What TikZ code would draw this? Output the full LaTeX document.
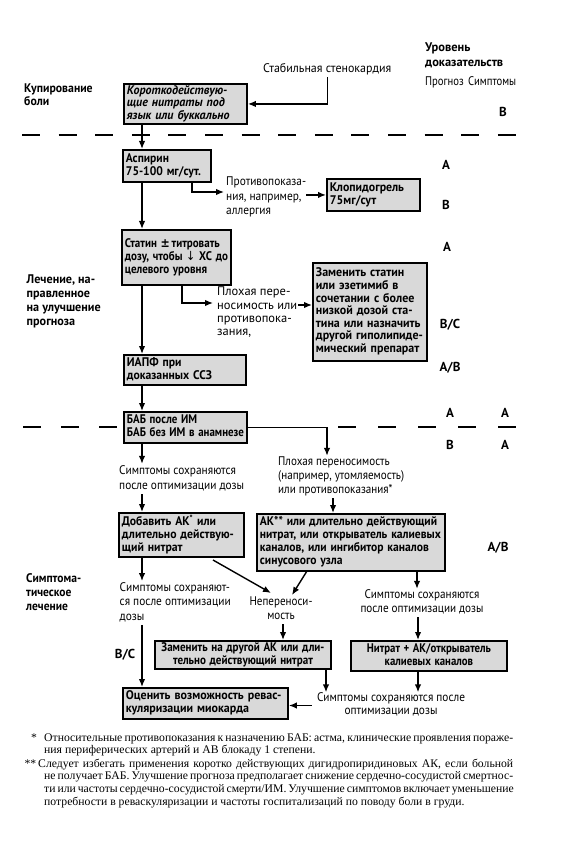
\documentclass[tikz,border=0pt]{standalone}
\usepackage{graphicx}
\usepackage{fontspec}
\setmainfont{PT Sans}
\newfontfamily\fnfont{Liberation Serif}
\newfontfamily\symf{DejaVu Sans}
\usetikzlibrary{arrows.meta}
\definecolor{boxgray}{gray}{0.85}
\newcommand\fsbox{\fontsize{12.5}{13}\selectfont}
\newcommand\fslab{\fontsize{12.5}{14}\selectfont}
% fit a block of lines to a given width (horizontal scaling only)
\newcommand\fitl[2]{\resizebox{#1pt}{\height}{\begin{tabular}{@{}l@{}}#2\end{tabular}}}
\newcommand\fitc[2]{\resizebox{#1pt}{\height}{\begin{tabular}{@{}c@{}}#2\end{tabular}}}
\begin{document}
\begin{tikzpicture}[x=1pt,y=-1pt,
  box/.style={draw, line width=1.9pt, fill=boxgray, inner xsep=3pt, inner ysep=0pt, anchor=north west, align=left, font=\bfseries\fsbox},
  cbox/.style={box, align=center},
  lbl/.style={inner sep=0pt, font=\fslab, anchor=west},
  clbl/.style={inner sep=0pt, font=\fslab},
  hd/.style={inner sep=0pt, font=\bfseries\fslab, anchor=west},
  ev/.style={inner sep=0pt, font=\bfseries\fontsize{13}{14}\selectfont},
  fn/.style={inner sep=0pt, anchor=base west, font=\fnfont\fontsize{11.7}{12}\selectfont},
  arr/.style={-{Latex[length=8pt,width=6.5pt]}, line width=1.4pt},
  dashline/.style={line width=2.6pt},
]
\fill[white] (0,0) rectangle (576,850);
\useasboundingbox (0,0) rectangle (576,850);

% bend coordinates
\coordinate (sp) at (142,0);
\coordinate (b1) at (192,0);
\coordinate (c1) at (224,192);
\coordinate (b2) at (182,0);
\coordinate (c2) at (213,303);
\coordinate (c3) at (298,305);
\coordinate (b3) at (327,0);
\coordinate (b4) at (333,0);
\coordinate (b5) at (417,0);
\coordinate (b6) at (283,0);
\coordinate (b7) at (418,0);
\coordinate (b8) at (326,0);
\coordinate (d1s) at (213,560);
\coordinate (d1e) at (271,593);
\coordinate (d2s) at (307,571);
\coordinate (d2e) at (292,595);

% dashed separators
\draw[dashline, dash pattern=on 18pt off 18.6pt] (22,135) -- (522,135);
\draw[dashline, dash pattern=on 18pt off 20pt] (23,427) -- (122,427);
\draw[dashline, dash pattern=on 18pt off 22pt] (338,427) -- (520,427);

% headings
\node[hd, font=\bfseries\fontsize{12.5}{15}\selectfont] (ur) at (425,56) {\fitl{78}{Уровень\\доказательств}};
\node[lbl] (pr) at (425,83) {\fitl{91}{Прогноз\hspace{5pt}Симптомы}};
\node[lbl] (stab) at (263,70) {\fitl{128}{Стабильная стенокардия}};
\node[hd, font=\bfseries\fontsize{12.5}{13}\selectfont] (kup) at (24,96.5) {\fitl{68.5}{Купирование\\боли}};
\node[hd] (lech) at (26.5,301.5) {\fitl{74}{Лечение, на-\\правленное\\на улучшение\\прогноза}};
\node[hd] (simpt) at (26,594) {\fitl{55}{Симптома-\\тическое\\лечение}};

% boxes
\node[box, font=\bfseries\itshape\fontsize{12.5}{12}\selectfont, text width=117pt, minimum height=40pt] (k1) at (123,83) {\fitl{102.5}{Короткодействую-\\щие нитраты под\\язык или буккально}};
\node[box, text width=82pt, minimum height=32pt] (asp) at (122,149) {\fitl{75}{Аспирин\\75-100 мг/сут.}};
\node[box, text width=87pt, minimum height=32pt] (clop) at (326,178) {\fitl{74}{Клопидогрель\\75мг/сут}};
\node[box, text width=103pt, minimum height=55pt] (stat) at (121,229) {\fitl{103}{Статин {\symf ±}\,титровать\\дозу, чтобы {\symf\mdseries ↓} ХС до\\целевого уровня}};
\node[box, font=\bfseries\fontsize{12.5}{12.4}\selectfont, text width=108pt, minimum height=98pt] (zam) at (312,262) {\fitl{107}{Заменить статин\\или эзетимиб в\\сочетании с более\\низкой дозой ста-\\тина или назначить\\другой гиполипиде-\\мический препарат}};
\node[box, text width=116pt, minimum height=30pt] (iapf) at (123,354) {\fitl{85}{ИАПФ при\\доказанных ССЗ}};
\node[box, text width=117pt, minimum height=31pt] (bab) at (123,411) {\fitl{117}{БАБ после ИМ\\БАБ без ИМ в анамнезе}};
\node[box, text width=119pt, minimum height=44pt] (dob) at (118,512) {\fitl{112}{Добавить АК\textsuperscript{*} или\\длительно действую-\\щий нитрат}};
\node[box, text width=182pt, minimum height=57pt] (ak) at (256,513) {\fitl{181}{АК** или длительно действующий\\нитрат, или открыватель калиевых\\каналов, или ингибитор каналов\\синусового узла}};
\node[cbox, text width=170pt, minimum height=28pt] (zam2) at (154,640) {\fitc{163}{Заменить на другой АК или дли-\\тельно действующий нитрат}};
\node[cbox, text width=150pt, minimum height=30pt] (nitr) at (350,640) {\fitc{124}{Нитрат + АК/открыватель\\калиевых каналов}};
\node[box, text width=159pt, minimum height=31pt] (ocen) at (122,687) {\fitl{155.5}{Оценить возможность ревас-\\куляризации миокарда}};

% labels
\node[lbl, font=\fontsize{12.5}{14.5}\selectfont] (ci1) at (226,197.5) {\fitl{80}{Противопоказа-\\ния, например,\\аллергия}};
\node[lbl, font=\fontsize{12.5}{13.3}\selectfont] (ci2) at (217,313) {\fitl{80}{Плохая пере-\\носимость или\\противопока-\\зания,}};
\node[lbl, font=\fontsize{12.5}{15}\selectfont] (sym1) at (119,479) {\fitl{125}{Симптомы сохраняются\\после оптимизации дозы}};
\node[lbl] (pl) at (278,477) {\fitl{126}{Плохая переносимость\\(например, утомляемость)\\или противопоказания*}};
\node[lbl, font=\fontsize{12.5}{14.5}\selectfont] (sym2) at (119.5,603) {\fitl{111}{Симптомы сохраняют-\\ся после оптимизации\\дозы}};
\node[clbl] (nepe) at (281,610) {\fitc{63}{Непереноси-\\мость}};
\node[clbl] (sym3) at (422,603) {\fitc{123}{Симптомы сохраняются\\после оптимизации дозы}};
\node[clbl, font=\fontsize{12.5}{13}\selectfont] (sym4) at (391,705.5) {\fitc{148}{Симптомы сохраняются после\\оптимизации дозы}};

% evidence levels
\node[ev] (e1) at (503,112) {B};
\node[ev] (e2) at (446,165) {A};
\node[ev] (e3) at (446,205) {B};
\node[ev] (e4) at (447,247) {A};
\node[ev] (e5) at (450,325) {B/C};
\node[ev] (e6) at (450,368) {A/B};
\node[ev] (e7) at (450,413) {A};
\node[ev] (e8) at (505,413) {A};
\node[ev] (e9) at (450,445) {B};
\node[ev] (e10) at (505,445) {A};
\node[ev] (e11) at (498,548) {A/B};
\node[ev] (e12) at (125,655) {B/C};

% connectors
\draw[arr] (stab.south) |- (k1.east);
\draw[arr] (k1.south -| sp) -- (asp.north -| sp);
\draw[arr] (asp.south -| b1) |- (c1);
\draw[arr] (clop.west -| ci1.east) -- (clop.west);
\draw[arr] (asp.south -| sp) -- (stat.north -| sp);
\draw[arr] (stat.south -| b2) |- (c2);
\draw[arr] (c3) -- (c3 -| zam.west);
\draw[arr] (stat.south -| sp) -- (iapf.north -| sp);
\draw[arr] (iapf.south -| sp) -- (bab.north -| sp);
\draw[arr] (bab.east) -| (b3 |- pl.north);
\draw[arr] (bab.south -| sp) -- (sym1.north -| sp);
\draw[arr] (sym1.south -| sp) -- (dob.north -| sp);
\draw[arr] (pl.south -| b4) -- (ak.north -| b4);
\draw[arr] (dob.south -| sp) -- (sym2.north -| sp);
\draw[arr] (d1s) -- (d1e);
\draw[arr] (d2s) -- (d2e);
\draw[arr] (ak.south -| b5) -- (sym3.north -| b5);
\draw[arr] (sym2.south -| sp) -- (ocen.north -| sp);
\draw[arr] (nepe.south -| b6) -- (zam2.north -| b6);
\draw[arr] (sym3.south -| b7) -- (nitr.north -| b7);
\draw[arr] (zam2.south -| b8) -- (sym4.north -| b8);
\draw[arr] (nitr.south -| b7) -- (sym4.north -| b7);
\draw[arr] ([xshift=-5pt]sym4.west) -- (sym4.west -| ocen.east);

% footnotes
\node[fn] (f1s) at (31,741) {*};
\node[fn] (f1a) at (44,741) {\makebox[469pt][s]{Относительные противопоказания к назначению БАБ: астма, клинические проявления пораже-}};
\node[fn] (f1b) at (44,753) {ния периферических артерий и АВ блокаду 1 степени.};
\node[fn, anchor=base east] (f2s) at (36.5,767) {**};
\node[fn] (f2a) at (38,767) {\makebox[475pt][s]{Следует избегать применения коротко действующих дигидропиридиновых АК, если больной}};
\node[fn] (f2b) at (44,779) {\makebox[469pt][s]{не получает БАБ. Улучшение прогноза предполагает снижение сердечно-сосудистой смертнос-}};
\node[fn] (f2c) at (44,792) {\makebox[469pt][s]{ти или частоты сердечно-сосудистой смерти/ИМ. Улучшение симптомов включает уменьшение}};
\node[fn] (f2d) at (44,805) {потребности в реваскуляризации и частоты госпитализаций по поводу боли в груди.};
\end{tikzpicture}
\end{document}
